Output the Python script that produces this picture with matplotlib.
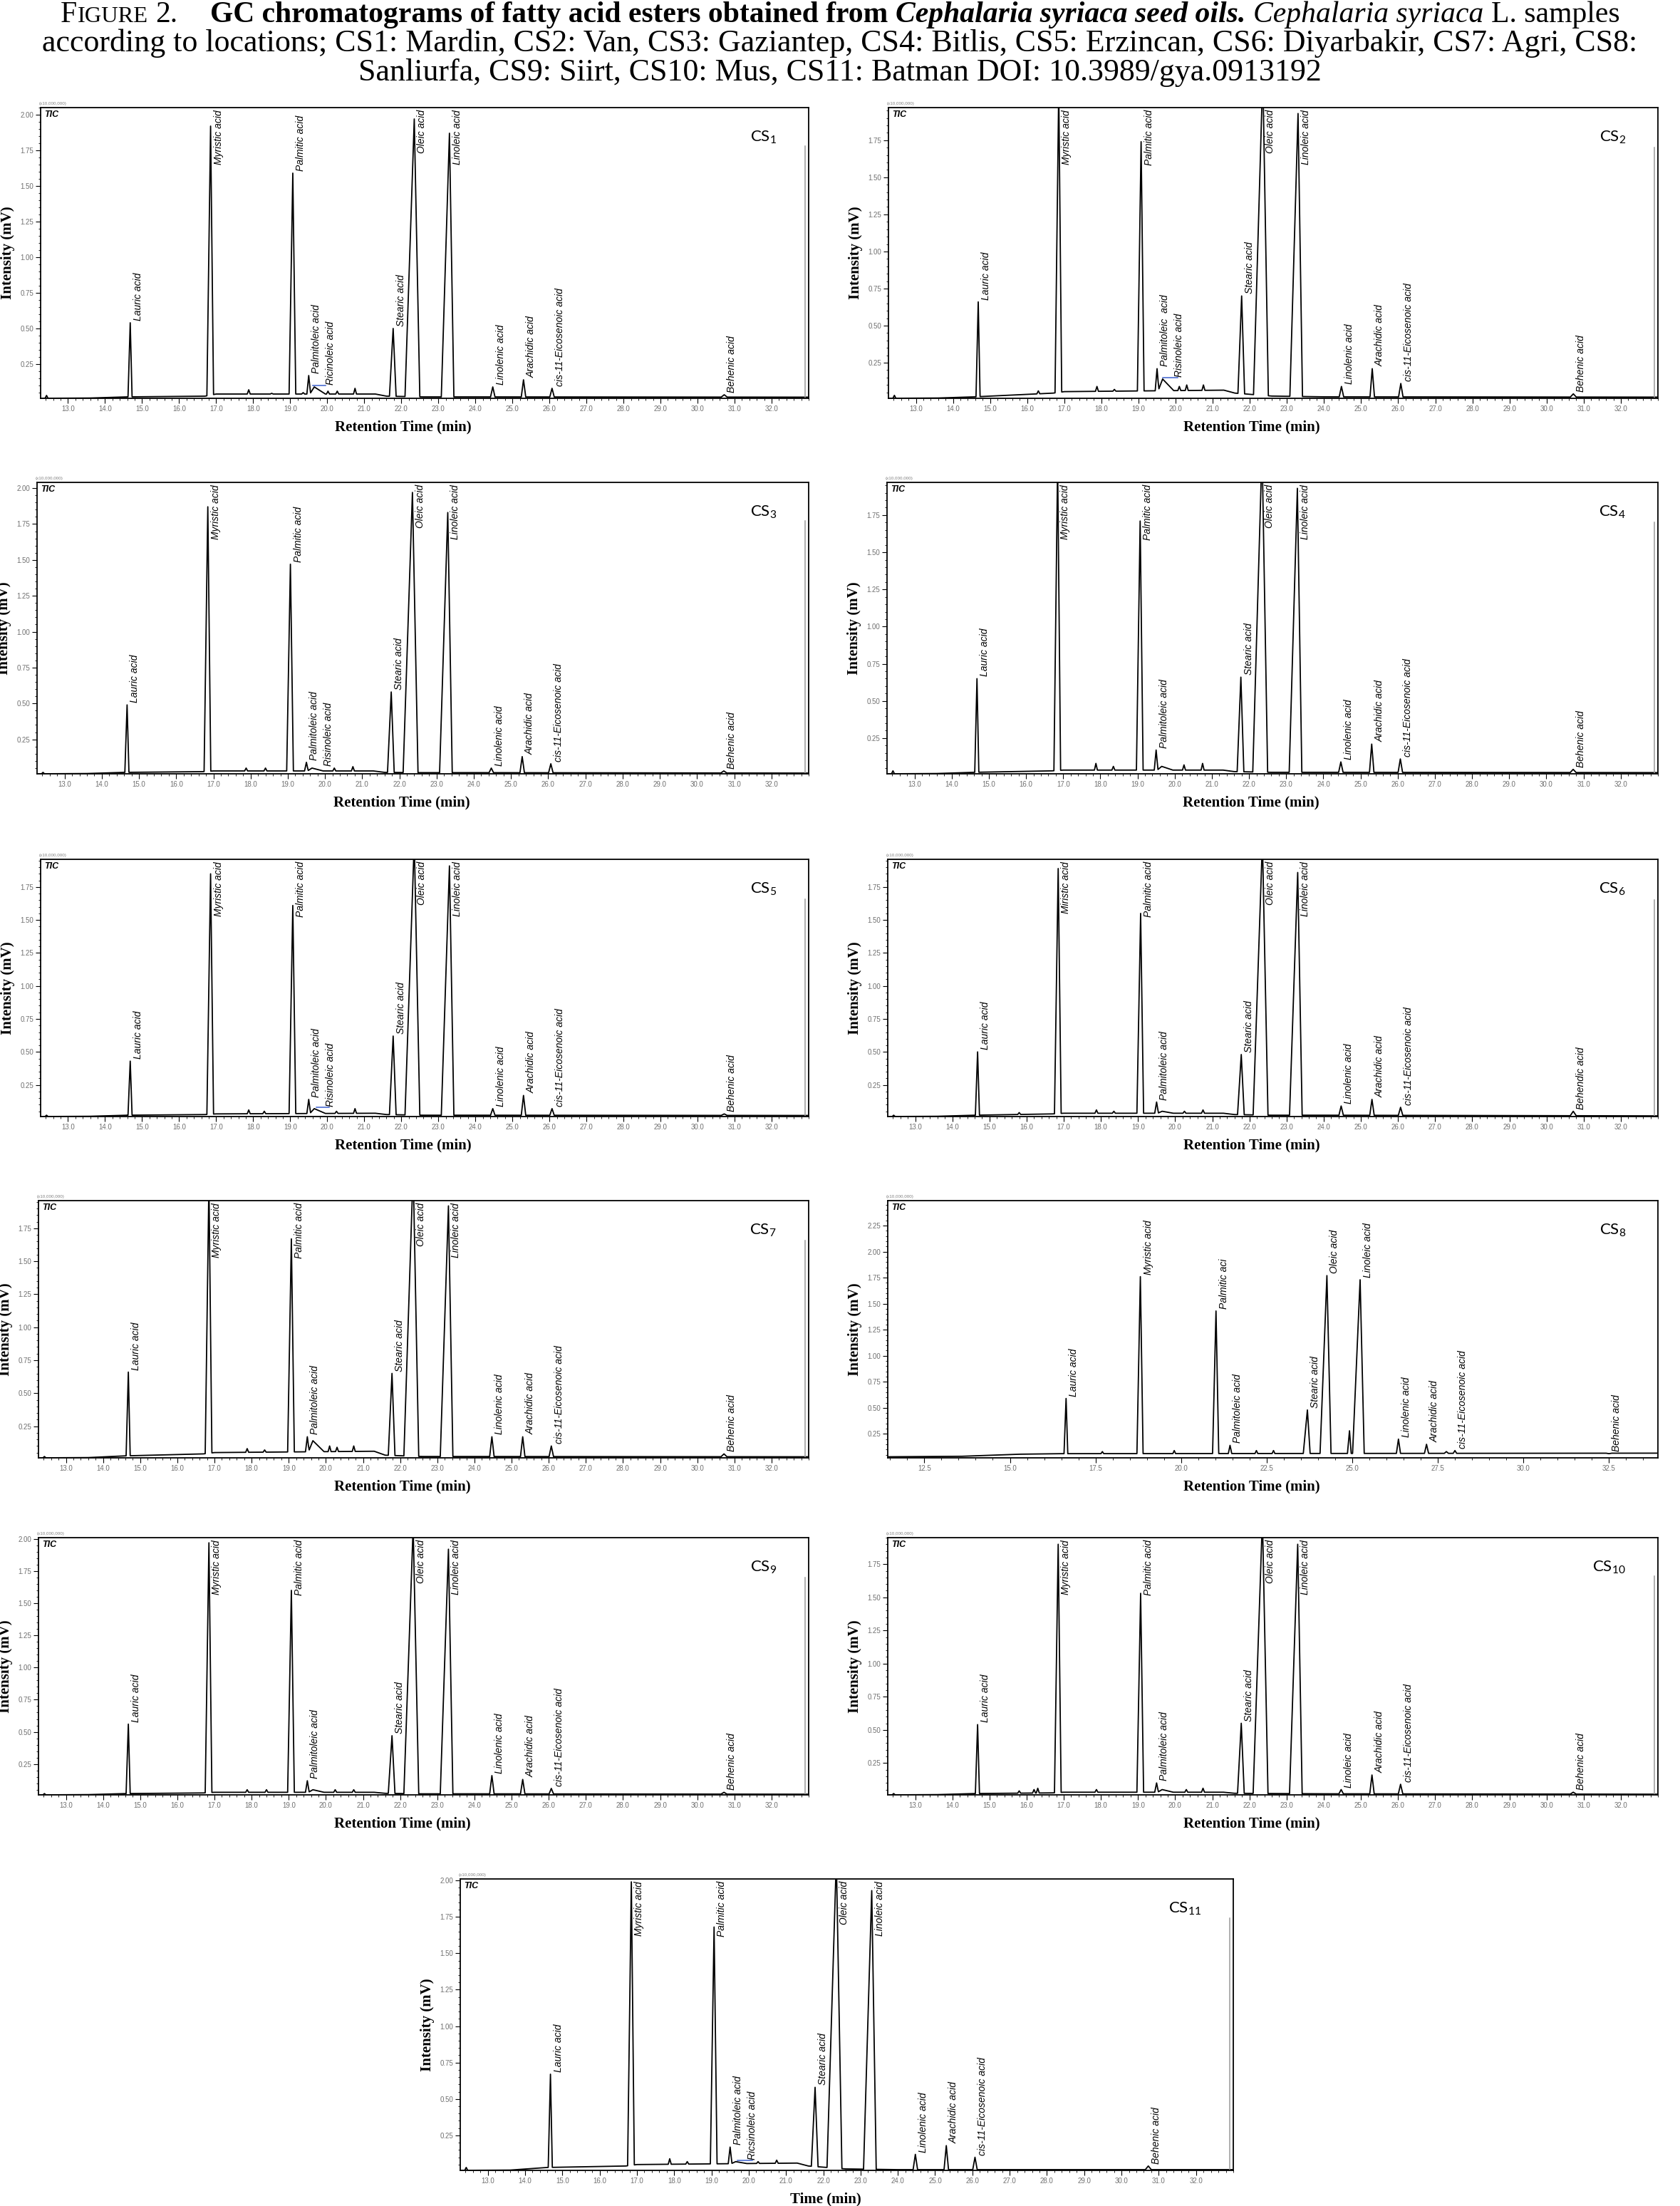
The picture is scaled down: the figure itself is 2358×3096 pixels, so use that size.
import numpy as np
import matplotlib
matplotlib.use("Agg")
import matplotlib.pyplot as plt
from matplotlib.ticker import FixedLocator, MultipleLocator, FormatStrFormatter
from matplotlib.transforms import IdentityTransform, ScaledTranslation

W, H, DPI = 2358, 3096, 100
plt.rcParams['mathtext.fontset'] = 'custom'
plt.rcParams['mathtext.rm'] = 'Lato'
plt.rcParams['font.family'] = ['Liberation Sans', 'DejaVu Sans']

# ---------------- data ----------------
# peaks common to CS1-CS7, CS9-CS11 (retention time, min)
peak_rt = [14.68, 16.85, 19.07, 19.50, 19.65, 21.78, 22.35, 23.30, 24.47, 25.30, 26.07, 30.72]
peak_wl = [0.06, 0.10, 0.10, 0.05, 0.12, 0.10, 0.25, 0.22, 0.06, 0.06, 0.06, 0.08]
peak_wr = [0.05, 0.08, 0.08, 0.05, 0.30, 0.08, 0.15, 0.12, 0.06, 0.06, 0.06, 0.08]
peak_names = ['Lauric acid', 'Myristic acid', 'Palmitic acid', 'Palmitoleic acid', 'Ricinoleic acid',
              'Stearic acid', 'Oleic acid', 'Linoleic acid', 'Linolenic acid', 'Arachidic acid',
              'cis-11-Eicosenoic acid', 'Behenic acid']

# apex heights (x10,000,000)
cs1_h = [0.54, 1.92, 1.59, 0.17, 0.09, 0.50, 1.97, 1.87, 0.09, 0.14, 0.08, 0.035]
cs2_h = [0.66, 2.10, 1.74, 0.21, 0.14, 0.70, 2.20, 1.93, 0.09, 0.21, 0.11, 0.04]
cs3_h = [0.49, 1.87, 1.47, 0.09, 0.05, 0.58, 1.97, 1.83, 0.05, 0.13, 0.08, 0.03]
cs4_h = [0.65, 2.10, 1.71, 0.17, 0.06, 0.66, 2.20, 1.93, 0.09, 0.21, 0.11, 0.04]
cs5_h = [0.43, 1.85, 1.61, 0.14, 0.07, 0.62, 2.10, 1.91, 0.07, 0.17, 0.07, 0.03]
cs6_h = [0.50, 1.89, 1.55, 0.12, 0.05, 0.48, 2.10, 1.86, 0.09, 0.14, 0.08, 0.05]
cs7_h = [0.66, 2.10, 1.67, 0.17, 0.14, 0.65, 2.20, 1.92, 0.17, 0.17, 0.10, 0.04]
cs9_h = [0.56, 1.97, 1.60, 0.12, 0.05, 0.47, 2.10, 1.92, 0.16, 0.13, 0.06, 0.03]
cs10_h = [0.54, 1.90, 1.53, 0.10, 0.05, 0.55, 2.10, 1.90, 0.05, 0.16, 0.09, 0.03]
cs11_h = [0.67, 1.99, 1.68, 0.17, 0.07, 0.58, 2.15, 1.93, 0.12, 0.18, 0.10, 0.04]

# labels as printed on each chromatogram (None = peak not labelled)
cs1_lab = peak_names
cs2_lab = [n if n != 'Ricinoleic acid' else 'Risinoleic acid' for n in peak_names]
cs2_lab[3] = 'Palmitoleic  acid'
cs3_lab = [n if n != 'Ricinoleic acid' else 'Risinoleic acid' for n in peak_names]
cs4_lab = [n if n != 'Ricinoleic acid' else None for n in peak_names]
cs5_lab = cs3_lab
cs6_lab = list(cs4_lab)
cs6_lab[1] = 'Miristic acid'
cs6_lab[11] = 'Behendic acid'
cs7_lab = cs4_lab
cs9_lab = cs4_lab
cs10_lab = list(cs4_lab)
cs10_lab[8] = 'Linoleic acid'
cs11_lab = [n if n != 'Ricinoleic acid' else 'Ricsinoleic acid' for n in peak_names]

# baseline drift
base_t = [12.3, 13.6, 14.6, 16.7, 17.0, 21.3, 21.6, 22.6, 24.0, 33.0]
cs1_base = [0.010, 0.012, 0.020, 0.025, 0.040, 0.040, 0.025, 0.020, 0.020, 0.018]
cs2_base = [0.010, 0.012, 0.020, 0.045, 0.055, 0.065, 0.045, 0.025, 0.020, 0.018]
cs3_base = [0.010, 0.012, 0.020, 0.025, 0.030, 0.030, 0.020, 0.018, 0.018, 0.015]
cs4_base = [0.010, 0.012, 0.020, 0.030, 0.035, 0.035, 0.025, 0.020, 0.020, 0.018]
cs5_base = [0.010, 0.012, 0.020, 0.025, 0.030, 0.035, 0.025, 0.020, 0.020, 0.018]
cs6_base = [0.010, 0.012, 0.020, 0.030, 0.035, 0.035, 0.025, 0.020, 0.020, 0.015]
cs7_base = [0.010, 0.012, 0.025, 0.040, 0.050, 0.060, 0.030, 0.020, 0.020, 0.018]
cs9_base = [0.010, 0.012, 0.020, 0.025, 0.030, 0.030, 0.022, 0.018, 0.018, 0.015]
cs10_base = [0.010, 0.012, 0.020, 0.025, 0.030, 0.030, 0.022, 0.020, 0.018, 0.015]
cs11_base = [0.010, 0.012, 0.030, 0.040, 0.050, 0.060, 0.040, 0.020, 0.015, 0.015]

# small unlabelled peaks
cs1_mt = [12.42, 17.88, 18.5, 19.35, 20.02, 20.27, 20.75]
cs1_mh = [0.03, 0.07, 0.045, 0.05, 0.06, 0.06, 0.08]
cs2_mt = [12.42, 16.3, 17.88, 18.35, 20.1, 20.3, 20.75]
cs2_mh = [0.03, 0.06, 0.09, 0.07, 0.09, 0.10, 0.10]
cs3_mt = [12.42, 17.88, 18.4, 20.25, 20.75]
cs3_mh = [0.02, 0.05, 0.05, 0.05, 0.06]
cs4_mt = [12.42, 17.88, 18.35, 20.25, 20.75]
cs4_mh = [0.03, 0.08, 0.06, 0.07, 0.08]
cs5_mt = [12.42, 17.88, 18.3, 20.25, 20.75]
cs5_mh = [0.02, 0.06, 0.05, 0.05, 0.07]
cs6_mt = [12.42, 15.8, 17.88, 18.35, 20.25, 20.75]
cs6_mh = [0.02, 0.04, 0.06, 0.05, 0.05, 0.06]
cs7_mt = [12.42, 17.88, 18.35, 20.1, 20.3, 20.75]
cs7_mh = [0.02, 0.08, 0.07, 0.10, 0.09, 0.10]
cs9_mt = [12.42, 17.88, 18.4, 20.25, 20.75]
cs9_mh = [0.02, 0.05, 0.05, 0.05, 0.05]
cs10_mt = [12.42, 15.8, 16.2, 16.3, 17.88, 20.3, 20.75]
cs10_mh = [0.02, 0.04, 0.05, 0.06, 0.05, 0.05, 0.06]
cs11_mt = [12.42, 17.88, 18.35, 20.25, 20.75]
cs11_mh = [0.03, 0.09, 0.07, 0.07, 0.08]

# CS8 was run with a different programme
cs8_rt = [16.64, 18.81, 21.02, 21.43, 23.69, 24.26, 24.92, 25.23, 26.35, 27.17, 27.75, 28.00, 32.50]
cs8_h = [0.59, 1.76, 1.43, 0.14, 0.48, 1.77, 0.28, 1.73, 0.20, 0.15, 0.08, 0.09, 0.06]
cs8_wl = [0.06, 0.10, 0.10, 0.05, 0.12, 0.20, 0.06, 0.22, 0.06, 0.06, 0.06, 0.05, 0.08]
cs8_wr = [0.05, 0.08, 0.08, 0.05, 0.08, 0.12, 0.05, 0.12, 0.06, 0.06, 0.06, 0.05, 0.08]
cs8_lab = ['Lauric acid', 'Myristic acid', 'Palmitic aci', 'Palmitoleic acid', 'Stearic acid', 'Oleic acid',
           None, 'Linoleic acid', 'Linolenic acid', 'Arachidic acid', None, 'cis-11-Eicosenoic acid',
           'Behenic acid']
cs8_base_t = [11.4, 13.6, 15.3, 16.5, 33.9]
cs8_base = [0.030, 0.035, 0.055, 0.060, 0.065]
cs8_mt = [17.7, 19.8, 22.2, 22.7]
cs8_mh = [0.08, 0.09, 0.09, 0.09]

# y range of each trace and height of the end-of-run marker
ylims = {'1': (0.01, 2.05), '2': (0.01, 1.97), '3': (0.01, 2.04), '4': (0.01, 1.97),
         '5': (0.01, 1.96), '6': (0.01, 1.96), '7': (0.01, 1.96), '8': (0.02, 2.49),
         '9': (0.01, 2.01), '10': (0.01, 1.95), '11': (0.01, 2.01)}
end_mark = {'1': 1.78, '2': 1.70, '3': 1.77, '4': 1.70, '5': 1.66, '6': 1.65, '7': 1.66,
            '8': None, '9': 1.70, '10': 1.66, '11': 1.74}
# blue integration marks near the ricinoleic hump: (start, end, level)
blue_marks = {'1': (19.60, 19.95, 0.10), '2': (19.65, 20.05, 0.15),
              '5': (19.70, 20.05, 0.08), '11': (19.70, 20.10, 0.08)}

panels = {
    '1': (peak_rt, cs1_h, peak_wl, peak_wr, cs1_lab, base_t, cs1_base, cs1_mt, cs1_mh),
    '2': (peak_rt, cs2_h, peak_wl, peak_wr, cs2_lab, base_t, cs2_base, cs2_mt, cs2_mh),
    '3': (peak_rt, cs3_h, peak_wl, peak_wr, cs3_lab, base_t, cs3_base, cs3_mt, cs3_mh),
    '4': (peak_rt, cs4_h, peak_wl, peak_wr, cs4_lab, base_t, cs4_base, cs4_mt, cs4_mh),
    '5': (peak_rt, cs5_h, peak_wl, peak_wr, cs5_lab, base_t, cs5_base, cs5_mt, cs5_mh),
    '6': (peak_rt, cs6_h, peak_wl, peak_wr, cs6_lab, base_t, cs6_base, cs6_mt, cs6_mh),
    '7': (peak_rt, cs7_h, peak_wl, peak_wr, cs7_lab, base_t, cs7_base, cs7_mt, cs7_mh),
    '8': (cs8_rt, cs8_h, cs8_wl, cs8_wr, cs8_lab, cs8_base_t, cs8_base, cs8_mt, cs8_mh),
    '9': (peak_rt, cs9_h, peak_wl, peak_wr, cs9_lab, base_t, cs9_base, cs9_mt, cs9_mh),
    '10': (peak_rt, cs10_h, peak_wl, peak_wr, cs10_lab, base_t, cs10_base, cs10_mt, cs10_mh),
    '11': (peak_rt, cs11_h, peak_wl, peak_wr, cs11_lab, base_t, cs11_base, cs11_mt, cs11_mh),
}

# ---------------- layout (pixel boxes: left, top, right, bottom) ----------------
boxes = {'1': (57, 151, 1135, 559), '2': (1247, 151, 2327, 559),
         '3': (52, 677, 1135, 1086), '4': (1245, 677, 2327, 1086),
         '5': (57, 1206, 1135, 1567), '6': (1246, 1206, 2327, 1567),
         '7': (54, 1685, 1135, 2046), '8': (1246, 1685, 2327, 2046),
         '9': (54, 2158, 1135, 2519), '10': (1246, 2158, 2327, 2519),
         '11': (646, 2637, 1731, 3046)}


def build_trace(rts, hts, wl, wr, bt, bl):
    xs = list(bt)
    for r, a, b in zip(rts, wl, wr):
        xs += [r - a, r, r + b]
    xs = np.unique(np.clip(xs, bt[0], bt[-1]))
    ys = np.interp(xs, bt, bl)
    for r, h, a, b in zip(rts, hts, wl, wr):
        amp = h - np.interp(r, bt, bl)
        m = (xs >= r - a) & (xs <= r)
        ys[m] += amp * (xs[m] - (r - a)) / a
        m = (xs > r) & (xs <= r + b)
        ys[m] += amp * ((r + b) - xs[m]) / b
    return xs, ys


fig = plt.figure(figsize=(W / DPI, H / DPI), dpi=DPI)
renderer = fig.canvas.get_renderer()
label_sets = []

for key, (rts, hts, wl, wr, labs, bt, bl, mt, mh) in panels.items():
    l, t, r, b = boxes[key]
    ax = fig.add_axes([l / W, 1 - b / H, (r - l) / W, (b - t) / H])
    all_rt = list(rts) + list(mt)
    all_h = list(hts) + list(mh)
    all_wl = list(wl) + [0.04] * len(mt)
    all_wr = list(wr) + [0.04] * len(mt)
    xs, ys = build_trace(all_rt, all_h, all_wl, all_wr, bt, bl)
    ax.plot(xs, ys, color='black', lw=1.3)

    if key == '8':
        ax.set_xlim(11.43, 33.93)
        ax.xaxis.set_major_locator(FixedLocator([12.5, 15.0, 17.5, 20.0, 22.5, 25.0, 27.5, 30.0, 32.5]))
        ax.xaxis.set_minor_locator(MultipleLocator(0.5))
        ax.yaxis.set_major_locator(FixedLocator([0.25, 0.5, 0.75, 1.0, 1.25, 1.5, 1.75, 2.0, 2.25]))
    else:
        ax.set_xlim(12.26, 33.0)
        ax.xaxis.set_major_locator(FixedLocator(list(range(13, 33))))
        ax.xaxis.set_minor_locator(MultipleLocator(0.2))
        ax.yaxis.set_major_locator(FixedLocator([0.25, 0.5, 0.75, 1.0, 1.25, 1.5, 1.75, 2.0]))
    y0, y1 = ylims[key]
    ax.set_ylim(y0, y1)
    ax.yaxis.set_minor_locator(MultipleLocator(0.05))
    ax.xaxis.set_major_formatter(FormatStrFormatter('%.1f'))
    ax.yaxis.set_major_formatter(FormatStrFormatter('%.2f'))
    ax.tick_params(which='major', direction='out', length=5, width=0.8, labelsize=7,
                   labelcolor='#707070', pad=2)
    ax.tick_params(which='minor', direction='out', length=2.5, width=0.6)
    for sp in ax.spines.values():
        sp.set_linewidth(1.3)

    if end_mark[key] is not None:
        xe = ax.get_xlim()[1] - 0.09
        ax.plot([xe, xe], [y0, end_mark[key]], color='#9a9a9a', lw=1.1)
    if key in blue_marks:
        bx0, bx1, by = blue_marks[key]
        ax.plot([bx0, bx1], [by, by], color='#3a5fcd', lw=1.1)

    ax.annotate('TIC', xy=(0, 1), xycoords='axes fraction', xytext=(5, -4),
                textcoords='offset pixels', ha='left', va='top', fontsize=9,
                fontstyle='italic', fontweight='bold')
    ax.annotate('(x10,000,000)', xy=(0, 1), xycoords='axes fraction', xytext=(-2, 3),
                textcoords='offset pixels', ha='left', va='bottom', fontsize=4.5, color='#808080')
    ax.annotate(r'CS$_{\mathrm{%s}}$' % key, xy=(1, 1), xycoords='axes fraction',
                xytext=(-45, -42), textcoords='offset pixels', ha='right', va='center',
                fontsize=16, family=['Lato', 'DejaVu Sans'])

    off = ax.transData + ScaledTranslation(4 / DPI, 3 / DPI, fig.dpi_scale_trans)
    texts = []
    for rt_, h_, lab in zip(rts, hts, labs):
        if lab is None:
            continue
        tx = ax.text(rt_, min(h_, y1), lab, rotation=90, rotation_mode='anchor',
                     ha='left', va='top', fontsize=10, fontstyle='italic', transform=off)
        texts.append(tx)
    label_sets.append((ax, texts))

    xlab = 'Time (min)' if key == '11' else 'Retention Time (min)'
    fig.text((l + r) / 2 - 30, H - (b + 40), xlab, transform=IdentityTransform(),
             ha='center', va='center', fontsize=15, fontweight='bold', family='Liberation Serif')
    fig.text(l - 46, H - (t + b) / 2, 'Intensity (mV)', transform=IdentityTransform(),
             rotation=90, ha='center', va='center', fontsize=15, fontweight='bold',
             family='Liberation Serif')

# keep peak labels inside the frame and apart from each other
for ax, texts in label_sets:
    abox = ax.get_window_extent(renderer)
    prev = None
    for tx in texts:
        bb = tx.get_window_extent(renderer)
        dx = dy = 0.0
        if bb.y1 > abox.y1 - 3:
            dy = abox.y1 - 3 - bb.y1
        if prev is not None and bb.x0 < prev.x1 + 6 and bb.y0 + dy < prev.y1 and bb.y1 + dy > prev.y0:
            dx = prev.x1 + 6 - bb.x0
        if dx or dy:
            px, py = ax.transData.transform(tx.get_position())
            tx.set_position(ax.transData.inverted().transform((px + dx, py + dy)))
            bb = tx.get_window_extent(renderer)
        prev = bb

# ---------------- caption ----------------
line2 = ('according to locations; CS1: Mardin, CS2: Van, CS3: Gaziantep, CS4: Bitlis, CS5: Erzincan, '
         'CS6: Diyarbakir, CS7: Agri, CS8:')
line3 = 'Sanliurfa, CS9: Siirt, CS10: Mus, CS11: Batman DOI: 10.3989/gya.0913192'
probe = fig.text(0, 0, line2, fontsize=27, family='Liberation Serif', transform=IdentityTransform())
size = 27 * 2238 / probe.get_window_extent(renderer).width
probe.remove()


def put_line(pieces, baseline_top, fit=None):
    objs, total = [], 0.0
    for txt, weight, style, scale, gap in pieces:
        tt = fig.text(0, 0, txt, transform=IdentityTransform(), fontsize=size * scale,
                      fontweight=weight, fontstyle=style, family='Liberation Serif',
                      ha='left', va='baseline')
        objs.append([tt, gap * size * DPI / 72, tt.get_window_extent(renderer).width, scale])
        total += objs[-1][1] + objs[-1][2]
    if fit is not None:
        k = fit / total
        total = 0.0
        for o in objs:
            o[0].set_fontsize(size * o[3] * k)
            o[1] *= k
            o[2] = o[0].get_window_extent(renderer).width
            total += o[1] + o[2]
    x = W / 2 - total / 2
    for tt, g, w, _ in objs:
        x += g
        tt.set_position((x, H - baseline_top))
        x += w


put_line([('F', 'normal', 'normal', 1, 0), ('IGURE', 'normal', 'normal', 0.78, 0.02),
          ('2.', 'normal', 'normal', 1, 0.25),
          ('GC chromatograms of fatty acid esters obtained from', 'bold', 'normal', 1, 1.1),
          ('Cephalaria syriaca seed oils.', 'bold', 'italic', 1, 0.25),
          ('Cephalaria syriaca', 'normal', 'italic', 1, 0.25),
          ('L. samples', 'normal', 'normal', 1, 0.25)], 31, fit=2190)
put_line([(line2, 'normal', 'normal', 1, 0)], 72)
put_line([(line3, 'normal', 'normal', 1, 0)], 113)

fig.savefig('out.png', dpi=DPI, facecolor='white')
